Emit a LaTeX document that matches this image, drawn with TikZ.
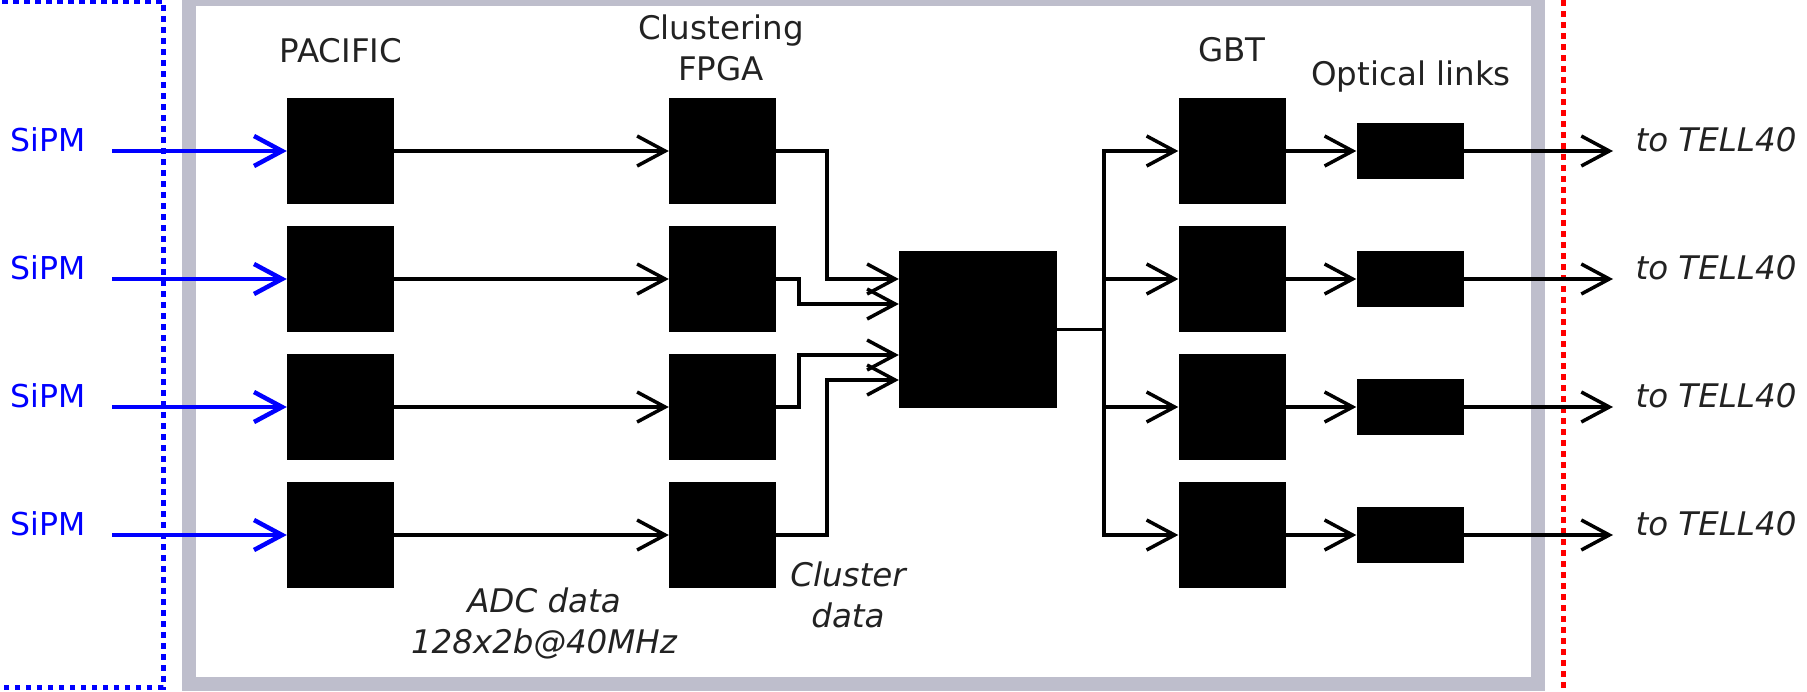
\documentclass[tikz,border=0pt]{standalone}
\usepackage{fontspec}
\setmainfont{DejaVu Sans}
\usetikzlibrary{arrows.meta}
\definecolor{framegray}{RGB}{190,190,204}
\definecolor{txtgray}{RGB}{34,34,34}
\definecolor{sipmblue}{RGB}{0,0,255}
\begin{document}
\begin{tikzpicture}[x=1pt,y=-1pt,
  every node/.style={font=\fontsize{32.5}{41}\selectfont},
  blk/.style={fill=black,draw=none,inner sep=0pt,minimum width=107pt,minimum height=106pt},
  optbox/.style={fill=black,draw=none,inner sep=0pt,minimum width=107pt,minimum height=56pt},
  cenbox/.style={fill=black,draw=none,inner sep=0pt,minimum width=158pt,minimum height=157pt},
  lbl/.style={text=txtgray,inner sep=0pt,align=center},
  ilbl/.style={text=txtgray,inner sep=0pt,align=center,font=\fontsize{32.5}{41}\selectfont\itshape},
  barb/.tip={Straight Barb[length=28pt,width=30pt]},
  wire/.style={line width=3.5pt,black,-barb},
  plain/.style={line width=3.5pt,black},
  inwire/.style={line width=4.5pt,sipmblue,-barb},
]
\clip (0,0) rectangle (1807,691);
\useasboundingbox (0,0) rectangle (1807,691);

% front-end board outline and boundary markers
\draw[framegray,line width=14pt] (188.5,-1) rectangle (1538,684);
\draw[sipmblue,line width=5pt,dash pattern=on 5.5pt off 5.5pt] (-20,1) -- (163,1) -- (163,687) -- (-20,687);
\draw[red,line width=5pt,dash pattern=on 5.5pt off 5.5pt] (1563,0) -- (1563,691);

% column headers
\node[lbl] at (341,51) {PACIFIC};
\node[lbl] at (721,48) {Clustering\\FPGA};
\node[lbl] at (1232,50) {GBT};
\node[lbl] at (1411,77) {Optical links};

% central data-concentrator block
\node[cenbox] (cen) at (978,329.5) {};
\coordinate (j) at (1104,329.5);
\draw[plain] (cen.east) -- (j);

\foreach \i/\y in {1/151,2/279,3/407,4/535}{
  \node[blk] (pac\i) at (340.5,\y) {};
  \node[blk] (fpga\i) at (722.5,\y) {};
  \node[blk] (gbt\i) at (1232,\y) {};
  \node[optbox] (opt\i) at (1410,\y) {};
  \node[text=sipmblue,inner sep=0pt,font=\fontsize{31.5}{41}\selectfont] (sipm\i) at (48,\y-11) {SiPM};
  \node[ilbl] (tell\i) at (1716,\y-11) {to TELL40};
  \coordinate (src\i) at (112,\y);
  \coordinate (dst\i) at (1613,\y);
  \draw[inwire] (src\i) -- (pac\i.west);
  \draw[wire] (pac\i.east) -- (fpga\i.west);
  \draw[wire] (j) |- (gbt\i.west);
  \draw[wire] (gbt\i.east) -- (opt\i.west);
  \draw[wire] (opt\i.east) -- (dst\i);
}

% cluster data routed into the concentrator
\draw[wire] (fpga1.east) -- ++(51,0) |- ([yshift=50.5pt]cen.west);
\draw[wire] (fpga2.east) -- ++(23,0) |- ([yshift=25.5pt]cen.west);
\draw[wire] (fpga3.east) -- ++(23,0) |- ([yshift=-25.5pt]cen.west);
\draw[wire] (fpga4.east) -- ++(51,0) |- ([yshift=-50.5pt]cen.west);

% data-rate annotations
\node[ilbl] at (544,623) {ADC data\\128x2b@40MHz};
\node[ilbl] at (848,595) {Cluster\\data};
\end{tikzpicture}
\end{document}
